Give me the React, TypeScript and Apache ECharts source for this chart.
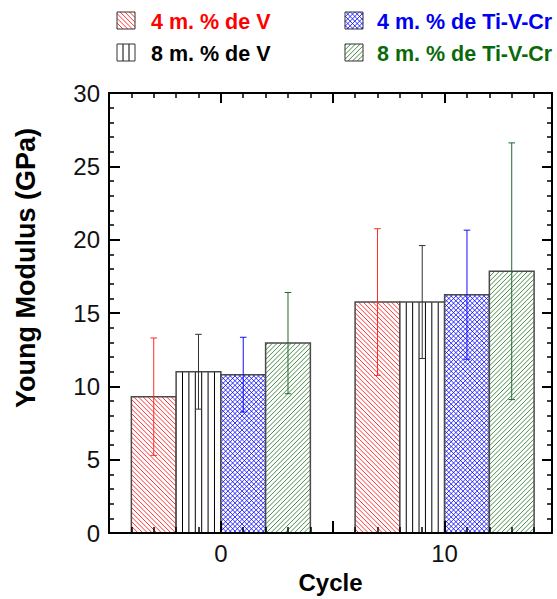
import React, { useEffect, useRef } from 'react';
import * as echarts from 'echarts';

// ---- data ----
const cycles = [0, 10];
const seriesNames = ['4 m. % de V', '8 m. % de V', '4 m. % de Ti-V-Cr', '8 m. % de Ti-V-Cr'];
const modulusV4 = [9.3, 15.75];
const errV4 = [4.0, 5.0];
const modulusV8 = [11.0, 15.75];
const errV8 = [2.55, 3.85];
const modulusTVC4 = [10.8, 16.25];
const errTVC4 = [2.55, 4.4];
const modulusTVC8 = [12.95, 17.85];
const errTVC8 = [3.45, 8.75];
const xTickLabels = [0, 10];
const yTickLabels = [0, 5, 10, 15, 20, 25, 30];

const seriesValues = [modulusV4, modulusV8, modulusTVC4, modulusTVC8];
const seriesErrors = [errV4, errV8, errTVC4, errTVC8];

// ---- styles ----
const FONT = '"Liberation Sans", Arial, Helvetica, sans-serif';
const styles = [
  { pattern: 'back', line: '#ff0000', text: '#ff0000', err: '#ff2a2a' },
  { pattern: 'vert', line: '#000000', text: '#000000', err: '#333333' },
  { pattern: 'cross', line: '#0000ff', text: '#0000f0', err: '#1010ff' },
  { pattern: 'fwd', line: '#1a6e1a', text: '#0a6a0a', err: '#1f6b2a' },
];
const BAR_UNITS = 2; // bar width in x-axis units
const HATCH = 4.7;

function hatchSegments(kind: string, x0: number, y0: number, x1: number, y1: number, s: number, vertCount = 7) {
  const segs: number[][] = [];
  if (kind === 'vert') {
    const step = (x1 - x0) / vertCount;
    for (let k = 1; k < vertCount; k++) {
      const x = x0 + k * step;
      segs.push([x, y0, x, y1]);
    }
    return segs;
  }
  if (kind === 'back' || kind === 'cross') {
    const cmin = y0 - x1;
    const cmax = y1 - x0;
    for (let c = Math.ceil(cmin / s) * s; c <= cmax; c += s) {
      const xa = Math.max(x0, y0 - c);
      const xb = Math.min(x1, y1 - c);
      if (xb > xa + 0.2) segs.push([xa, xa + c, xb, xb + c]);
    }
  }
  if (kind === 'fwd' || kind === 'cross') {
    const cmin = x0 + y0;
    const cmax = x1 + y1;
    for (let c = Math.ceil(cmin / s) * s; c <= cmax; c += s) {
      const xa = Math.max(x0, c - y1);
      const xb = Math.min(x1, c - y0);
      if (xb > xa + 0.2) segs.push([xa, c - xa, xb, c - xb]);
    }
  }
  return segs;
}

function makeSeries(i: number) {
  const off = (i - 1.5) * BAR_UNITS;
  const half = BAR_UNITS / 2;
  const st = styles[i];
  return {
    type: 'custom',
    name: seriesNames[i],
    xAxisIndex: 0,
    yAxisIndex: 0,
    z: 2,
    clip: false,
    dimensions: ['cycle', 'modulus', 'error'],
    encode: { x: 0, y: 1 },
    data: cycles.map((c, j) => [c, seriesValues[i][j], seriesErrors[i][j]]),
    renderItem: (params: any, api: any) => {
      const cyc = api.value(0);
      const val = api.value(1);
      const err = api.value(2);
      const pl = api.coord([cyc + off - half, 0]);
      const pr = api.coord([cyc + off + half, val]);
      const x0 = pl[0], y1 = pl[1], x1 = pr[0], y0 = pr[1];
      const children: any[] = [];
      children.push({ type: 'rect', shape: { x: x0, y: y0, width: x1 - x0, height: y1 - y0 }, style: { fill: '#ffffff' } });
      hatchSegments(st.pattern, x0, y0, x1, y1, HATCH).forEach((sg) => {
        children.push({ type: 'line', shape: { x1: sg[0], y1: sg[1], x2: sg[2], y2: sg[3] }, style: { stroke: st.line, lineWidth: st.pattern === 'vert' ? 1 : 0.8 } });
      });
      children.push({ type: 'rect', shape: { x: x0, y: y0, width: x1 - x0, height: y1 - y0 }, style: { fill: 'none', stroke: '#4a4a4a', lineWidth: 1.5 } });
      const cx = api.coord([cyc + off, val])[0];
      const eTop = api.coord([cyc + off, val + err])[1];
      const eBot = api.coord([cyc + off, val - err])[1];
      const cap = 3.3;
      const es = { stroke: st.err, lineWidth: 1 };
      children.push({ type: 'line', shape: { x1: cx, y1: eTop, x2: cx, y2: eBot }, style: es });
      children.push({ type: 'line', shape: { x1: cx - cap, y1: eTop, x2: cx + cap, y2: eTop }, style: es });
      children.push({ type: 'line', shape: { x1: cx - cap, y1: eBot, x2: cx + cap, y2: eBot }, style: es });
      return { type: 'group', children };
    },
  };
}

function legendGraphics() {
  const colX = [117, 345];
  const textX = [151, 377];
  const rowY = [12, 44];
  const w = 18, h = 17;
  const els: any[] = [];
  for (let i = 0; i < 4; i++) {
    const col = i < 2 ? 0 : 1;
    const row = i % 2;
    const x = colX[col], y = rowY[row];
    const st = styles[i];
    els.push({ type: 'rect', shape: { x, y, width: w, height: h }, style: { fill: '#fff' }, z: 100 });
    hatchSegments(st.pattern, x, y, x + w, y + h, 4.7, 3).forEach((sg) => {
      els.push({ type: 'line', shape: { x1: sg[0], y1: sg[1], x2: sg[2], y2: sg[3] }, style: { stroke: st.line, lineWidth: st.pattern === 'vert' ? 1 : 0.8 }, z: 101 });
    });
    els.push({ type: 'rect', shape: { x, y, width: w, height: h }, style: { fill: 'none', stroke: '#333', lineWidth: 1 }, z: 102 });
    els.push({
      type: 'text',
      x: textX[col],
      y: y + h / 2 + 1,
      z: 102,
      style: {
        text: seriesNames[i],
        fill: st.text,
        font: `bold 21.5px ${FONT}`,
        align: 'left',
        verticalAlign: 'middle',
        textAlign: 'left',
        textVerticalAlign: 'middle',
      },
    });
  }
  return els;
}

export default function App() {
  const ref = useRef<HTMLDivElement>(null);
  useEffect(() => {
    document.body.style.margin = '0';
    const chart = echarts.init(ref.current!, null, { renderer: 'svg' });
    const xMin = -5, xMax = 14.8;
    const tickColor = '#000';
    const xBase = { type: 'value', min: xMin, max: xMax, splitLine: { show: false }, z: 5 };
    const yBase = { type: 'value', min: yTickLabels[0], max: yTickLabels[yTickLabels.length - 1], interval: 5, splitLine: { show: false }, z: 5 };
    const option: any = {
      animation: false,
      backgroundColor: '#ffffff',
      grid: { left: 109, right: 5, top: 93, bottom: 61, containLabel: false },
      xAxis: [
        {
          ...xBase,
          position: 'bottom',
          interval: 1,
          axisLine: { show: true, onZero: false, lineStyle: { color: '#000', width: 2 } },
          axisTick: { show: true, inside: true, length: 6, lineStyle: { color: tickColor, width: 1.5 } },
          axisLabel: {
            formatter: (v: number) => (xTickLabels.indexOf(v) >= 0 ? String(v) : ''),
            fontSize: 24,
            color: '#111',
            fontFamily: FONT,
            margin: 8,
          },
          name: 'Cycle',
          nameLocation: 'middle',
          nameGap: 34,
          nameTextStyle: { fontSize: 24, fontWeight: 'bold', color: '#000', fontFamily: FONT },
        },
        {
          ...xBase,
          position: 'bottom',
          interval: 5,
          axisLine: { show: false, onZero: false },
          axisTick: { show: true, inside: true, length: 12, lineStyle: { color: tickColor, width: 2 } },
          axisLabel: { show: false },
        },
        {
          ...xBase,
          position: 'top',
          interval: 1,
          axisLine: { show: true, onZero: false, lineStyle: { color: '#000', width: 2 } },
          axisTick: { show: true, inside: true, length: 5, lineStyle: { color: tickColor, width: 1.5 } },
          axisLabel: { show: false },
        },
        {
          ...xBase,
          position: 'top',
          interval: 5,
          axisLine: { show: false, onZero: false },
          axisTick: { show: true, inside: true, length: 10, lineStyle: { color: tickColor, width: 2 } },
          axisLabel: { show: false },
        },
      ],
      yAxis: [
        {
          ...yBase,
          position: 'left',
          axisLine: { show: true, onZero: false, lineStyle: { color: '#000', width: 2 } },
          axisTick: { show: true, inside: true, length: 11, lineStyle: { color: tickColor, width: 2 } },
          minorTick: { show: true, splitNumber: 5, length: 5, lineStyle: { color: tickColor, width: 1.5 } },
          axisLabel: { fontSize: 24, color: '#111', fontFamily: FONT, margin: 9 },
        },
        {
          ...yBase,
          position: 'right',
          axisLine: { show: true, onZero: false, lineStyle: { color: '#000', width: 2 } },
          axisTick: { show: true, inside: true, length: 10, lineStyle: { color: tickColor, width: 2 } },
          minorTick: { show: true, splitNumber: 5, length: 5, lineStyle: { color: tickColor, width: 1.5 } },
          axisLabel: { show: false },
        },
      ],
      graphic: [
        {
          type: 'text',
          x: 26,
          y: 268,
          rotation: Math.PI / 2,
          z: 100,
          style: {
            text: 'Young Modulus (GPa)',
            fill: '#000',
            font: `bold 27px ${FONT}`,
            align: 'center',
            verticalAlign: 'middle',
            textAlign: 'center',
            textVerticalAlign: 'middle',
          },
        },
        ...legendGraphics(),
      ],
      series: [0, 1, 2, 3].map(makeSeries),
    };
    chart.setOption(option);
    return () => chart.dispose();
  }, []);
  return <div ref={ref} style={{ width: 557, height: 599 }} />;
}
